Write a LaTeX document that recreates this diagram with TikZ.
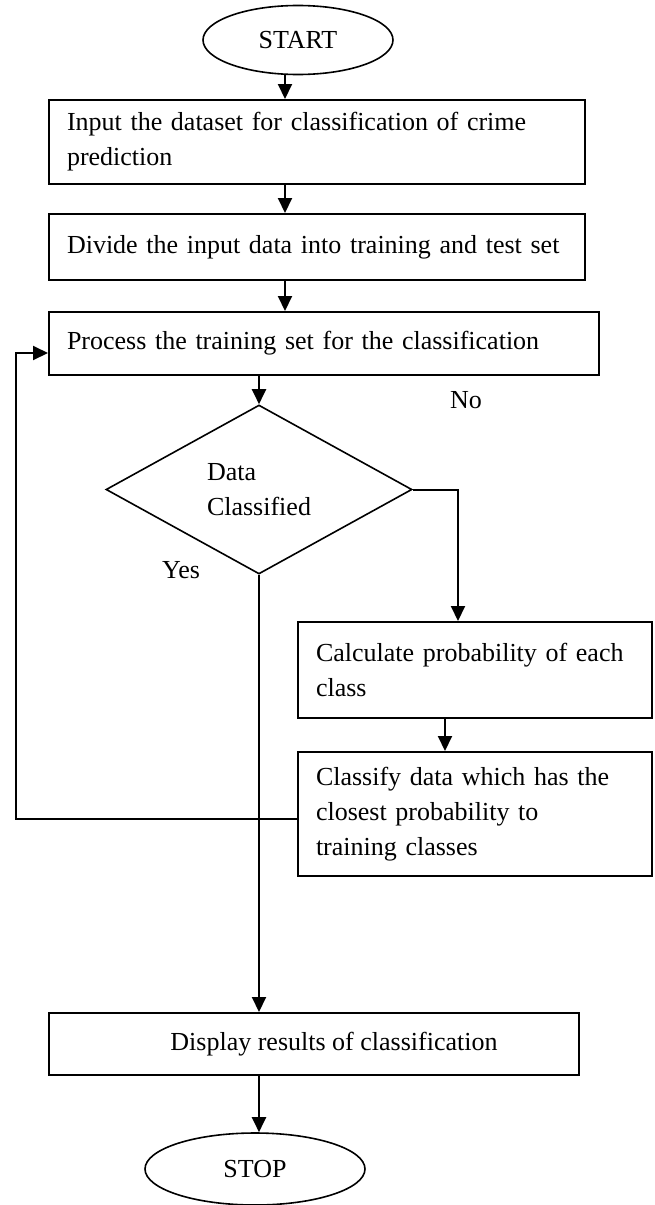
\documentclass[tikz,border=0pt]{standalone}
\usepackage{fontspec}
\setmainfont{Liberation Serif}
\usetikzlibrary{arrows.meta,shapes.geometric}

\tikzset{
  blk/.style={draw, line width=2pt, rectangle, inner xsep=18pt, align=left},
  term/.style={draw, line width=1.6pt, ellipse, inner sep=0pt},
  arr/.style={line width=2pt, -{Triangle[length=15pt,width=14pt]}}
}

\begin{document}
\begin{tikzpicture}[x=1pt, y=-1pt, font=\fontsize{26}{35}\selectfont]
\useasboundingbox (0,0) rectangle (655,1205);

\node[term, minimum width=190pt, minimum height=69pt] (start) at (298,40) {START};
\node[blk, text width=500pt, minimum height=84pt] (input) at (317,142) {Input the dataset for classification of crime\\prediction};
\node[blk, text width=500pt, minimum height=66pt] (divide) at (317,247) {Divide the input data into training and test set};
\node[blk, text width=514pt, minimum height=63pt] (proc) at (324,343.5) {Process the training set for the classification};

\node[draw, line width=1.6pt, diamond, minimum width=306pt, minimum height=169pt, inner sep=0pt, align=left] (dec) at (259,489.5) {Data\\Classified};

\node[blk, text width=318pt, minimum height=96pt] (calc) at (475,670) {Calculate probability of each\\class};
\node[blk, text width=318pt, minimum height=124pt] (cls) at (475,814) {Classify data which has the\\closest probability to\\training classes};

\node[blk, minimum width=530pt, minimum height=62pt, align=center] (disp) at (314,1044) {\hspace*{40pt}Display results of classification};
\node[term, minimum width=220pt, minimum height=72pt] (stop) at (255,1169) {STOP};

\node (no) at (466,400) {No};
\node (yes) at (181,570) {Yes};

\coordinate (spine) at (285,0);
\coordinate (nox) at (458,0);
\coordinate (sub) at (445,0);
\coordinate (back) at (16,353);

\draw[arr] (start.south -| spine) -- (input.north -| spine);
\draw[arr] (input.south -| spine) -- (divide.north -| spine);
\draw[arr] (divide.south -| spine) -- (proc.north -| spine);
\draw[arr] (proc.south -| dec.north) -- (dec.north);

\draw[arr] (dec.east) -| (calc.north -| nox);
\draw[arr] (calc.south -| sub) -- (cls.north -| sub);
\draw[arr] ([yshift=-5pt]cls.west) -| (back) -- (back -| proc.west);

\draw[arr] (dec.south) -- (disp.north -| dec.south);
\draw[arr] (disp.south -| dec.south) -- (stop.north -| dec.south);
\end{tikzpicture}
\end{document}
